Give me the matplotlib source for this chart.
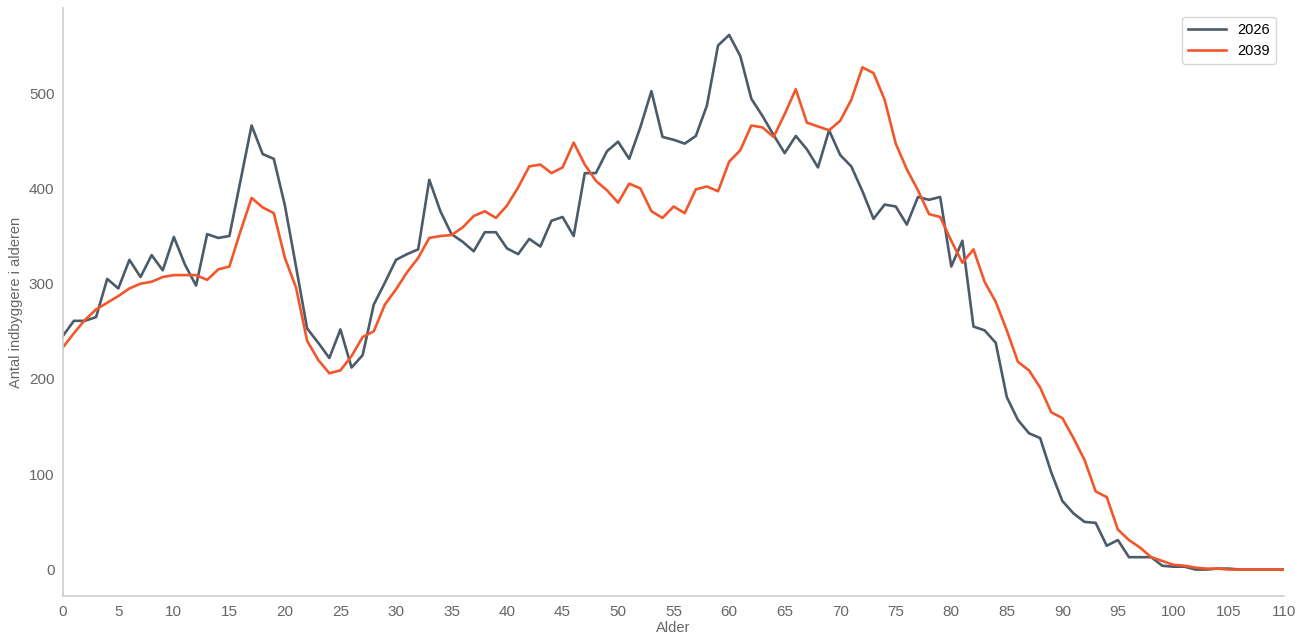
import matplotlib
matplotlib.use("Agg")
import matplotlib.pyplot as plt

# Alder 0..110
AGES = list(range(0, 111))

POP_2026 = [
    245, 261, 261, 265, 305, 295, 325, 307, 330, 314,
    349, 320, 298, 352, 348, 350, 408, 466, 436, 431,
    382, 318, 253, 238, 222, 252, 212, 225, 278, 301,
    325, 331, 336, 409, 376, 352, 344, 334, 354, 354,
    337, 331, 347, 339, 366, 370, 350, 416, 416, 439,
    449, 431, 464, 502, 454, 451, 447, 455, 487, 550,
    561, 539, 494, 476, 456, 437, 455, 441, 422, 461,
    435, 423, 397, 368, 383, 381, 362, 391, 388, 391,
    318, 345, 255, 251, 238, 181, 157, 143, 138, 102,
    72, 59, 50, 49, 25, 31, 13, 13, 13, 4,
    3, 3, 0, 0, 1, 1, 0, 0, 0, 0,
    0,
]

POP_2039 = [
    233, 248, 262, 273, 280, 287, 295, 300, 302, 307,
    309, 309, 309, 304, 315, 318, 355, 390, 380, 374,
    327, 296, 240, 220, 206, 209, 224, 244, 250, 278,
    294, 312, 327, 348, 350, 351, 359, 371, 376, 369,
    382, 401, 423, 425, 416, 422, 448, 425, 408, 398,
    385, 405, 400, 376, 369, 381, 374, 399, 402, 397,
    428, 440, 466, 464, 454, 478, 504, 469, 465, 461,
    471, 493, 527, 521, 493, 447, 420, 398, 373, 370,
    345, 322, 336, 302, 281, 251, 218, 209, 191, 165,
    159, 138, 115, 82, 76, 42, 31, 23, 13, 9,
    5, 4, 2, 1, 1, 0, 0, 0, 0, 0,
    0,
]

XTICKS = list(range(0, 111, 5))
YTICKS = [0, 100, 200, 300, 400, 500]

plt.rcParams["font.family"] = ["Liberation Sans", "DejaVu Sans"]

fig = plt.figure(figsize=(13.08, 6.33), dpi=100)
ax = fig.add_axes([0.048, 0.058, 0.934, 0.929])

ax.plot(AGES, POP_2026, color="#4b5b69", linewidth=1.9, label="2026")
ax.plot(AGES, POP_2039, color="#f2562a", linewidth=1.9, label="2039")

ax.set_xlim(0, 110)
ax.set_xticks(XTICKS)
ax.set_yticks(YTICKS)
ax.margins(y=0.05)

for side in ("top", "right"):
    ax.spines[side].set_visible(False)
for side in ("left", "bottom"):
    ax.spines[side].set_color("#cccccc")
    ax.spines[side].set_linewidth(1.2)

ax.tick_params(length=0, labelsize=11, labelcolor="#666666", pad=6)
ax.set_xlabel("Alder", fontsize=10.5, color="#666666", labelpad=2)
ax.set_ylabel("Antal indbyggere i alderen", fontsize=10.5, color="#666666", labelpad=4)

leg = ax.legend(loc="upper right", fontsize=10.5, frameon=True, fancybox=True,
                handlelength=2.6, borderaxespad=0.6)
leg.get_frame().set_edgecolor("#cccccc")

fig.savefig("out.png", dpi=100)
